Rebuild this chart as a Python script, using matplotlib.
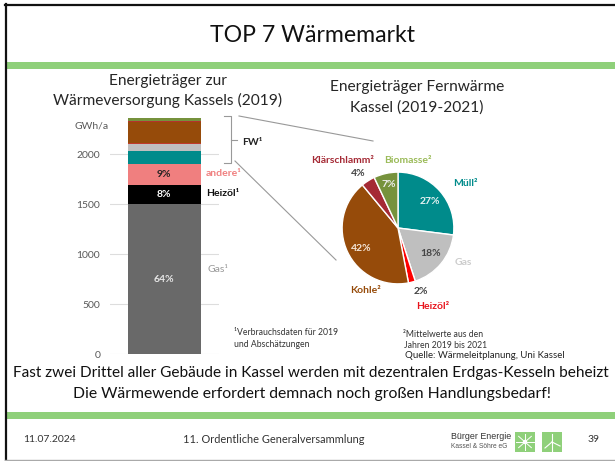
import numpy as np
import matplotlib
matplotlib.use('Agg')
import matplotlib.pyplot as plt
from matplotlib.patches import Rectangle, Circle

plt.rcParams['font.family'] = ['Lato', 'DejaVu Sans']

W, H = 615, 461

# stacked bar, GWh/a
bar_names = ['Gas', 'Heizöl', 'andere', 'Müll', 'Fernwärme Gas', 'Fernwärme Heizöl', 'Kohle', 'Klärschlamm', 'Biomasse']
bar_values = [1500, 190, 215, 125, 73, 10, 207, 10, 25]
bar_colors = ['#696969', '#000000', '#f07f7f', '#008b8b', '#bfbfbf', '#c0392b', '#964b0a', '#b5322e', '#76923c']
y_ticks = [0, 500, 1000, 1500, 2000]

# pie, clockwise from 12 o'clock
pie_names = ['Müll', 'Gas', 'Heizöl', 'Kohle', 'Klärschlamm', 'Biomasse']
pie_values = [27, 18, 2, 42, 4, 7]
pie_colors = ['#008b8b', '#bfbfbf', '#ff0000', '#964b0a', '#a52a35', '#76923c']

fig = plt.figure(figsize=(W / 100, H / 100), dpi=100, facecolor='white')
# overlay in pixel coordinates, sits on top of the two charts
bg = fig.add_axes([0, 0, 1, 1], zorder=5)
bg.set_xlim(0, W)
bg.set_ylim(H, 0)
bg.axis('off')


def txt(x, y, s, size=8, color='#262626', ha='left', weight='normal', **kw):
    bg.text(x, y, s, fontsize=size, color=color, ha=ha, va='center', fontweight=weight, **kw)


# slide frame and green bands
bg.plot([5.5, 5.5], [4.5, 460], color='#111111', lw=1.6)
bg.plot([4.5, W], [5.5, 5.5], color='#111111', lw=1.6)
bg.plot([5, W], [459.8, 459.8], color='#aaaaaa', lw=1)
bg.add_patch(Rectangle((5, 62), W - 5, 7, fc='#8fd07a', ec='none'))
bg.add_patch(Rectangle((5, 412), W - 5, 7, fc='#8fd07a', ec='none'))

txt(312, 35, 'TOP 7 Wärmemarkt', size=16.6, ha='center', color='#111111')
txt(168, 81, 'Energieträger zur', size=11.2, ha='center')
txt(168, 100, 'Wärmeversorgung Kassels (2019)', size=11.2, ha='center')
txt(417, 87, 'Energieträger Fernwärme', size=11.2, ha='center')
txt(417, 108, 'Kassel (2019-2021)', size=11.2, ha='center')

# bar chart
ax = fig.add_axes([110 / W, 1 - 354 / H, 109 / W, 236 / H])
ax.set_xlim(0, 1)
ax.set_ylim(0, 2360)
ax.patch.set_alpha(0)
for s in ax.spines.values():
    s.set_visible(False)
ax.set_xticks([])
ax.set_yticks(y_ticks)
ax.tick_params(axis='y', length=0, labelsize=7.5, labelcolor='#595959', pad=7)
ax.grid(axis='y', color='#dddddd', lw=0.8)
ax.set_axisbelow(True)
ax.bar([0.5] * len(bar_values), bar_values, width=0.67,
       bottom=np.cumsum([0] + bar_values[:-1]), color=bar_colors)

txt(92, 126, 'GWh/a', size=7.5, ha='center', color='#595959')
txt(164, 279, '64%', size=7.5, ha='center', color='#e6e6e6', weight='bold')
txt(164, 194, '8%', size=7.5, ha='center', color='white', weight='bold')
txt(164, 174, '9%', size=7.5, ha='center', color='#222222', weight='bold')
txt(206, 193, 'Heizöl¹', size=7.5, color='#111111', weight='bold')
txt(206, 173, 'andere¹', size=7.5, color='#f08080', weight='bold')
txt(207, 269, 'Gas¹', size=7.5, color='#999999')
txt(242, 142, 'FW¹', size=7.5, color='#222222', weight='bold')
bg.plot([224, 231, 231, 224], [116.5, 116.5, 163, 163], color='#999999', lw=0.8)
bg.plot([231, 237], [140, 140], color='#999999', lw=0.8)
bg.plot([239, 373], [116, 141], color='#999999', lw=0.8)
bg.plot([235, 336], [161, 260], color='#999999', lw=0.8)
txt(234, 332, '¹Verbrauchsdaten für 2019', size=6.2, color='#333333')
txt(234, 344, 'und Abschätzungen', size=6.2, color='#333333')

# pie chart
pie_ax = fig.add_axes([341 / W, 1 - 285 / H, 114 / W, 114 / H])
pie_ax.pie(pie_values, colors=pie_colors, startangle=90, counterclock=False, radius=1,
           wedgeprops={'edgecolor': 'white', 'linewidth': 1})
pie_ax.set_xlim(-1.02, 1.02)
pie_ax.set_ylim(-1.02, 1.02)

txt(430, 201, '27%', size=7.5, ha='center', color='#e6f2f2', weight='bold')
txt(431, 253, '18%', size=7.5, ha='center', color='#444444', weight='bold')
txt(361, 248, '42%', size=7.5, ha='center', color='#f5e6d8', weight='bold')
txt(389, 184, '7%', size=7.5, ha='center', color='#eeeeee', weight='bold')
txt(358, 173, '4%', size=7.5, ha='center', color='#444444', weight='bold')
txt(421, 291, '2%', size=7.5, ha='center', color='#444444', weight='bold')
txt(343, 160.5, 'Klärschlamm²', size=7.5, ha='center', color='#a52a35', weight='bold')
txt(384, 160, 'Biomasse²', size=7.5, color='#9bbb59', weight='bold')
txt(453, 183, 'Müll²', size=7.5, color='#008b8b', weight='bold')
txt(455, 262, 'Gas', size=7.5, color='#cccccc', weight='bold')
txt(350, 290, 'Kohle²', size=7.5, color='#964b0a', weight='bold')
txt(416, 306, 'Heizöl²', size=7.5, color='#e8141c', weight='bold')

txt(403, 334, '²Mittelwerte aus den', size=6.2, color='#333333')
txt(404, 345, 'Jahren 2019 bis 2021', size=6.2, color='#333333')
txt(405, 355.5, 'Quelle: Wärmeleitplanung, Uni Kassel', size=6.9, color='#222222')

# bottom text and footer
txt(311, 373, 'Fast zwei Drittel aller Gebäude in Kassel werden mit dezentralen Erdgas-Kesseln beheizt', size=11.1, ha='center', color='#111111')
txt(312, 394, 'Die Wärmewende erfordert demnach noch großen Handlungsbedarf!', size=11.3, ha='center', color='#111111')
txt(23, 439, '11.07.2024', size=7.5, color='#333333')
txt(183, 439, '11. Ordentliche Generalversammlung', size=7.9, color='#333333')
bg.text(451, 436, 'Bürger Energie', fontsize=6.4, family='Liberation Sans', color='#333333', va='center')
bg.text(451, 446, 'Kassel & Söhre eG', fontsize=4.8, family='Liberation Sans', color='#555555', va='center')
bg.add_patch(Rectangle((515, 432), 20, 20, fc='#8fd07a', ec='none'))
bg.add_patch(Rectangle((542, 432), 20, 20, fc='#8fd07a', ec='none'))
for a in np.arange(0, 360, 45):
    r = np.radians(a)
    bg.plot([525, 525 + 9 * np.cos(r)], [442, 442 + 8 * np.sin(r)], color='white', lw=0.7)
bg.add_patch(Circle((525, 442), 2.2, fc='white', ec='none'))
bg.plot([552, 552], [434, 452], color='white', lw=0.8)
bg.plot([552, 560], [442, 446], color='white', lw=0.8)
bg.plot([552, 545], [442, 448], color='white', lw=0.8)
txt(594, 439, '39', size=7.5, ha='center', color='#333333')

fig.savefig('out.png', dpi=100)
